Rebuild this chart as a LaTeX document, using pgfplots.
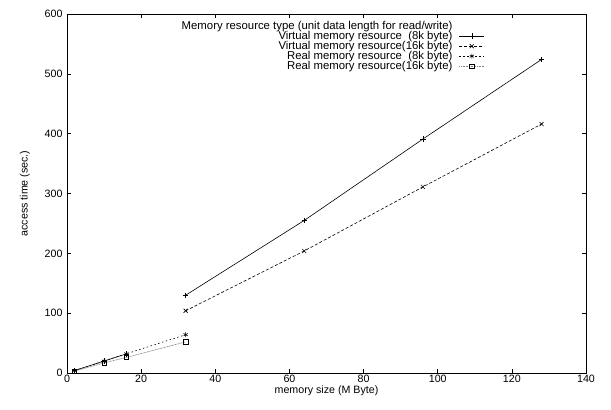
\documentclass[border=0pt]{standalone}
\usepackage{fontspec}
\setmainfont{Liberation Sans}
\usepackage{pgfplots}
\pgfplotsset{compat=1.18}

\begin{document}
\begin{tikzpicture}[font=\fontsize{10.7}{12}\selectfont]
\begin{axis}[
  name=ax,
  scale only axis, width=519bp, height=359bp,
  xmin=0, xmax=140, ymin=0, ymax=600,
  xtick={0,20,...,140}, ytick={0,100,...,600},
  tick align=inside, major tick length=4bp,
  /pgf/number format/assume math mode=true,
  xticklabel style={yshift=1bp}, yticklabel style={xshift=-1bp},
  xlabel={memory size (M Byte)}, ylabel={access time (sec.)},
  xlabel style={yshift=4bp}, ylabel style={yshift=8bp},
  axis line style={line width=0.7pt}, every tick/.style={black, line width=0.5pt},
  unbounded coords=jump,
  legend style={at={(0.806,0.982)}, anchor=north east, draw=none, fill=none,
    row sep=0pt, inner sep=0.5bp, font=\fontsize{11.4}{12}\selectfont,
    nodes={text height=7.6bp, text depth=1.8bp, inner ysep=0.3bp, inner xsep=1.5bp}},
  legend cell align=right, legend plot pos=right,
  legend image code/.code={\draw[draw opacity=0] (0bp,0bp) -- (5bp,0bp);
    \draw[mark repeat=2,mark phase=2,#1] plot coordinates {(5bp,0bp) (17.5bp,0bp) (30bp,0bp)};},
]
\addlegendimage{legend image code/.code={\draw[draw opacity=0] (0bp,0bp) -- (30bp,0bp);}}
\addlegendentry{Memory resource type (unit data length for read/write)}

\addplot[black, line width=0.6pt, mark=+, mark size=2.7pt, mark options={solid}]
  coordinates {(2,4) (10,20) (16,32) (24,nan) (32,130) (64,255) (96,391) (128,524)};
\addlegendentry{Virtual memory resource\ \ (8k byte)}

\addplot[black, line width=0.6pt, dash pattern=on 3bp off 2bp, mark=x, mark size=2.8pt, mark options={solid}]
  coordinates {(32,104) (64,204) (96,311) (128,416)};
\addlegendentry{Virtual memory resource(16k byte)}

\addplot[black, line width=0.6pt, dash pattern=on 1.5bp off 2.5bp, mark=asterisk, mark size=2.5pt, mark options={solid}]
  coordinates {(2,4) (10,20) (16,32) (32,64)};
\addlegendentry{Real memory resource\ \ (8k byte)}

\addplot[gray, line width=0.6pt, dash pattern=on 1bp off 0.6bp, mark=square, mark size=2.2pt, mark options={solid, black}]
  coordinates {(2,3) (10,17) (16,26) (32,52)};
\addlegendentry{Real memory resource(16k byte)}
\end{axis}
\path (ax.south west) ++(-67bp,-37bp) coordinate (bl);
\path (ax.north east) ++(25bp,14bp) coordinate (tr);
\path (bl) rectangle (tr);
\end{tikzpicture}
\end{document}
